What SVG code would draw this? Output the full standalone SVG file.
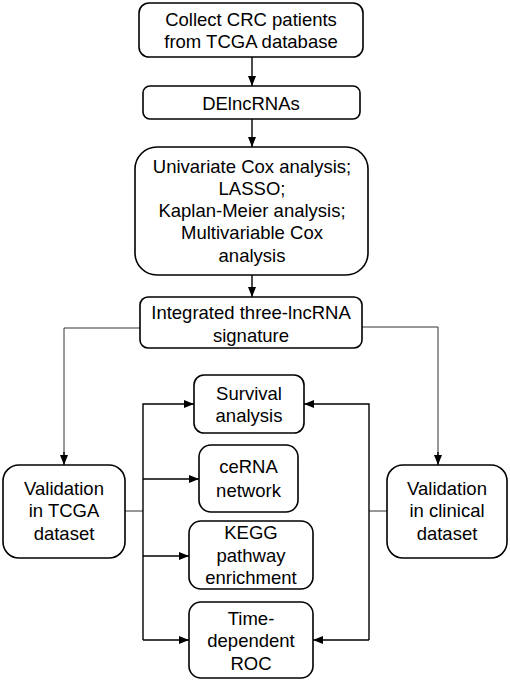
<svg xmlns="http://www.w3.org/2000/svg" width="510" height="682" viewBox="0 0 510 682">
<style>
.box{fill:#fff;stroke:#000;stroke-width:1.6}
text{font-family:"Liberation Sans",Arial,sans-serif;font-size:18.5px;fill:#000;text-anchor:middle}
.c{fill:none;stroke:#000;stroke-width:1.4}
.t{fill:none;stroke:#333;stroke-width:1}
</style>
<defs>
<marker id="ah" markerWidth="10" markerHeight="8" refX="10" refY="4" orient="auto" markerUnits="userSpaceOnUse">
<path d="M0,0 L10,4 L0,8 Z" fill="#000"/>
</marker>
</defs>
<g id="connectors">
<line class="c" x1="252" y1="57" x2="252" y2="86" marker-end="url(#ah)"/>
<line class="c" x1="252" y1="119" x2="252" y2="147" marker-end="url(#ah)"/>
<line class="c" x1="252" y1="275" x2="252" y2="297" marker-end="url(#ah)"/>
<polyline class="t" points="140,328 64,328 64,463"/>
<line class="c" x1="64" y1="452" x2="64" y2="465" marker-end="url(#ah)"/>
<polyline class="t" points="362,327 438,327 438,463"/>
<line class="c" x1="438" y1="452" x2="438" y2="465" marker-end="url(#ah)"/>
<line class="t" x1="125" y1="511" x2="143" y2="511"/>
<polyline class="c" points="143,640 143,404 194,404" marker-end="url(#ah)"/>
<line class="c" x1="143" y1="479" x2="199" y2="479" marker-end="url(#ah)"/>
<line class="c" x1="143" y1="556" x2="189" y2="556" marker-end="url(#ah)"/>
<line class="c" x1="143" y1="640" x2="189" y2="640" marker-end="url(#ah)"/>
<line class="t" x1="387" y1="511" x2="369" y2="511"/>
<polyline class="c" points="369,640 369,404 304,404" marker-end="url(#ah)"/>
<line class="c" x1="369" y1="640" x2="313" y2="640" marker-end="url(#ah)"/>
</g>
<g id="collect">
<rect class="box" x="139" y="3" width="224" height="54" rx="10"/>
<text x="251" y="26">Collect CRC patients</text>
<text x="251" y="48">from TCGA database</text>
</g>
<g id="delncrnas">
<rect class="box" x="143" y="86" width="217" height="33" rx="7"/>
<text x="251" y="110">DElncRNAs</text>
</g>
<g id="analysis">
<rect class="box" x="135" y="147" width="233" height="128" rx="22"/>
<text x="252" y="173">Univariate Cox analysis;</text>
<text x="252" y="195">LASSO;</text>
<text x="252" y="217">Kaplan-Meier analysis;</text>
<text x="252" y="239">Multivariable Cox</text>
<text x="252" y="262">analysis</text>
</g>
<g id="signature">
<rect class="box" x="140" y="297" width="222" height="51" rx="8"/>
<text x="251" y="319">Integrated three-lncRNA</text>
<text x="251" y="342">signature</text>
</g>
<g id="val-tcga">
<rect class="box" x="3" y="465" width="122" height="93" rx="16"/>
<text x="64" y="495">Validation</text>
<text x="64" y="517">in TCGA</text>
<text x="64" y="540">dataset</text>
</g>
<g id="val-clinical">
<rect class="box" x="387" y="465" width="120" height="93" rx="16"/>
<text x="447" y="495">Validation</text>
<text x="447" y="517">in clinical</text>
<text x="447" y="540">dataset</text>
</g>
<g id="survival">
<rect class="box" x="194" y="375" width="110" height="58" rx="10"/>
<text x="249" y="400">Survival</text>
<text x="249" y="422">analysis</text>
</g>
<g id="cerna">
<rect class="box" x="199" y="445" width="99" height="67" rx="12"/>
<text x="248.5" y="473">ceRNA</text>
<text x="248.5" y="497">network</text>
</g>
<g id="kegg">
<rect class="box" x="189" y="521" width="124" height="68" rx="12"/>
<text x="251" y="539">KEGG</text>
<text x="251" y="562">pathway</text>
<text x="251" y="584">enrichment</text>
</g>
<g id="roc">
<rect class="box" x="189" y="602" width="124" height="76" rx="12"/>
<text x="251" y="625">Time-</text>
<text x="251" y="647">dependent</text>
<text x="251" y="670">ROC</text>
</g>
</svg>
